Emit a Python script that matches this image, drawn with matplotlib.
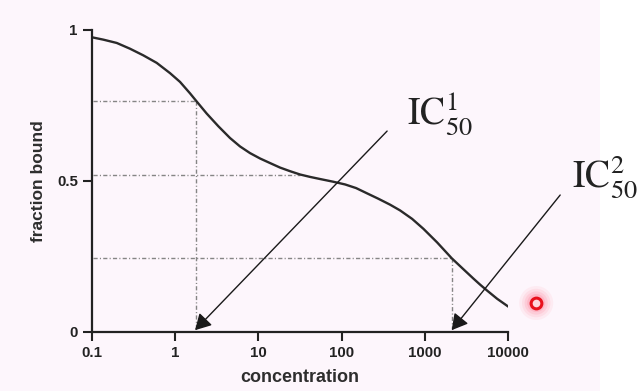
import matplotlib
matplotlib.use("Agg")
import matplotlib.pyplot as plt
import matplotlib.ticker as mticker
from matplotlib.patches import Rectangle

# curve (concentration, fraction bound)
conc = [0.1, 0.138, 0.200, 0.288, 0.416, 0.603, 0.871, 1.148, 1.514, 1.82,
        2.40, 3.31, 4.57, 6.03, 7.94, 10.5, 13.8, 18.2, 24.0, 31.7, 41.8,
        55.1, 79.4, 110, 149, 200, 274, 381, 502, 700, 957, 1397, 2099,
        2788, 3811, 4581, 5521, 7345, 10000]
bound = [0.976, 0.968, 0.957, 0.938, 0.916, 0.891, 0.857, 0.828, 0.790, 0.763,
         0.723, 0.681, 0.642, 0.614, 0.592, 0.574, 0.559, 0.544, 0.532, 0.521,
         0.513, 0.506, 0.497, 0.488, 0.476, 0.459, 0.441, 0.421, 0.402, 0.374,
         0.341, 0.296, 0.243, 0.211, 0.176, 0.156, 0.137, 0.109, 0.083]

# guide lines: (x end, y level)
guide_x = [1.78, 31.7, 2090]
guide_y = [0.763, 0.521, 0.243]
ic50 = [1.74, 2090]
ic50_labels = [r"$\mathrm{IC}_{50}^{1}$", r"$\mathrm{IC}_{50}^{2}$"]
arrow_tail = [(351, 0.665), (41900, 0.453)]

xticks = [0.1, 1, 10, 100, 1000, 10000]
xtick_labels = ["0.1", "1", "10", "100", "1000", "10000"]
yticks = [0, 0.5, 1]
ytick_labels = ["0", "0.5", "1"]

cursor = (21600, 0.095)

bg = "#fdf6fc"
plt.rcParams["font.family"] = ["Liberation Sans", "DejaVu Sans"]
plt.rcParams["mathtext.fontset"] = "stix"

fig = plt.figure(figsize=(6.42, 3.91), dpi=100)
fig.patch.set_facecolor(bg)
fig.patches.append(Rectangle((600 / 642, 0), 1 - 600 / 642, 1, transform=fig.transFigure,
                             facecolor="white", edgecolor="none", zorder=-10))
ax = fig.add_axes([0.1428, 0.1517, 0.649, 0.7716])
ax.set_facecolor("none")

dashdot = (0, (3, 1.6, 0.8, 1.6))
for gx, gy in zip(guide_x, guide_y):
    ax.plot([0.105, gx], [gy, gy], color="#858585", lw=1, ls=dashdot)
for gx, gy in zip(guide_x[::2], guide_y[::2]):
    ax.plot([gx, gx], [gy, 0.01], color="#858585", lw=1, ls=dashdot)

ax.plot(conc, bound, color="#2a2a2a", lw=1.7, solid_capstyle="round",
        solid_joinstyle="round")

for xi, tail in zip(ic50, arrow_tail):
    ax.annotate("", xy=(xi, 0.005), xytext=tail, annotation_clip=False,
                arrowprops=dict(arrowstyle="-|>,head_length=0.8,head_width=0.45",
                                mutation_scale=12, color="#1a1a1a", lw=1.0,
                                shrinkA=0, shrinkB=0))

fig.text(407 / 642, (391 - 125) / 391, ic50_labels[0], fontsize=27,
         color="#222222", va="baseline", ha="left")
fig.text(572 / 642, (391 - 188) / 391, ic50_labels[1], fontsize=27,
         color="#222222", va="baseline", ha="left")

# red cursor ring with glow
for s, a in [(600, 0.06), (420, 0.08), (280, 0.1), (170, 0.14)]:
    ax.scatter([cursor[0]], [cursor[1]], s=s, color="#ff4060", alpha=a,
               edgecolors="none", clip_on=False, zorder=5)
ax.scatter([cursor[0]], [cursor[1]], s=60, facecolor="#ffd6dc", edgecolors="#e8101c",
           linewidths=2.2, clip_on=False, zorder=6)

ax.set_xscale("log")
ax.set_xlim(0.1, 10000)
ax.set_ylim(0, 1)
ax.set_xticks(xticks)
ax.set_xticklabels(xtick_labels)
ax.xaxis.set_minor_locator(mticker.NullLocator())
ax.set_yticks(yticks)
ax.set_yticklabels(ytick_labels)

for side in ["top", "right"]:
    ax.spines[side].set_visible(False)
for side in ["left", "bottom"]:
    ax.spines[side].set_linewidth(1.6)
    ax.spines[side].set_color("#222222")
ax.tick_params(axis="both", length=6.5, width=1.5, color="#222222",
               labelsize=10.8, pad=3.5)
for lab in ax.get_xticklabels() + ax.get_yticklabels():
    lab.set_fontweight("bold")
    lab.set_color("#222222")

ax.set_xlabel("concentration", fontsize=13, fontweight="bold", color="#2e2e2e")
ax.xaxis.set_label_coords(0.5, -0.153)
ax.xaxis.label.set_va("center")
ax.set_ylabel("fraction bound", fontsize=12.5, fontweight="bold", color="#2e2e2e")
ax.yaxis.set_label_coords(-0.128, 0.5)
ax.yaxis.label.set_va("center")

fig.savefig("out.png", dpi=100, facecolor=fig.get_facecolor())
